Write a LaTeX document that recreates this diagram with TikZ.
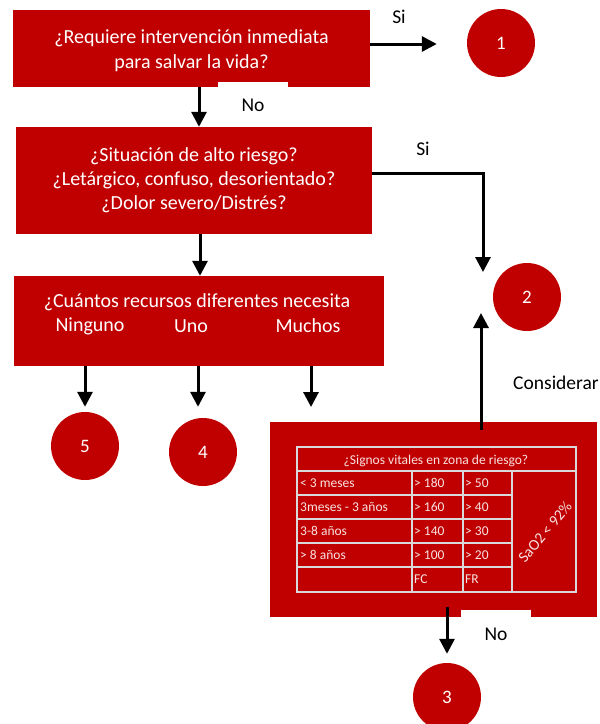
\documentclass[tikz,border=0pt]{standalone}
\usepackage{fontspec}
\setmainfont{Carlito}
\usetikzlibrary{arrows.meta,positioning}
\definecolor{rojo}{RGB}{192,0,0}
\definecolor{linea}{RGB}{217,217,217}
\definecolor{rosa}{RGB}{248,226,226}
\begin{document}
\begin{tikzpicture}[x=1pt,y=-1pt,
  caja/.style={fill=rojo,text=white,align=center,inner sep=0pt,font=\fontsize{20}{24}\selectfont},
  txt/.style={text=white,inner sep=0pt,font=\fontsize{20}{24}\selectfont},
  circulo/.style={circle,fill=rojo,text=white,minimum size=68pt,inner sep=0pt,font=\fontsize{19}{22}\selectfont},
  flecha/.style={line width=3pt,-{Triangle[length=15pt,width=15pt]}},
  etiq/.style={inner sep=0pt,font=\fontsize{19.5}{22}\selectfont},
  tapa/.style={etiq,fill=white,minimum width=70pt},
  rejilla/.style={draw=linea,line width=1.5pt},
  celda/.style={anchor=west,text=rosa,inner sep=0pt,font=\fontsize{13.5}{16}\selectfont}]
\useasboundingbox (0,0) rectangle (600,724);
\node[caja,minimum width=357pt,minimum height=77pt] (b1) at (191.5,48.5) {};
\node[txt,align=center,font=\fontsize{20}{25}\selectfont] (q1) at (191.5,51) {¿Requiere intervención inmediata\\para salvar la vida?};
\node[tapa,minimum height=46pt] (no1) at (253,105) {No};
\node[caja,minimum width=356pt,minimum height=107pt] (b2) at (194,180.5) {¿Situación de alto riesgo?\\¿Letárgico, confuso, desorientado?\\¿Dolor severo/Distrés?};
\node[caja,minimum width=370pt,minimum height=90pt] (b3) at (199,321) {};
\node[txt] (q3) at (197,302) {¿Cuántos recursos diferentes necesita};
\node[txt] (ning) at (90,326) {Ninguno};
\node[txt] (uno) at (191,326) {Uno};
\node[txt] (much) at (308,326) {Muchos};
\node[caja,minimum width=327pt,minimum height=195pt] (b4) at (433.5,519.5) {};
\node[tapa,minimum height=48pt] (no2) at (496,634) {No};
\node[circulo] (c1) at (501,43) {1};
\node[circulo] (c2) at (527,297) {2};
\node[circulo] (c5) at (85,446) {5};
\node[circulo] (c4) at (203,452) {4};
\node[circulo] (c3) at (447,697) {3};
\node[etiq] (si1) at (399,17) {Si};
\node[etiq] (si2) at (423,149) {Si};
\node[etiq] (cons) at (556,383) {Considerar};
\coordinate (t2) at (483,272);
\coordinate (t2b) at (481,313);
\coordinate (m) at (311,407);
\draw[rejilla] (297,447) rectangle (576,592);
\draw[rejilla] (297,471) -- (576,471);
\foreach \y in {495,519,543,567} \draw[rejilla] (297,\y) -- (512,\y);
\foreach \x in {412,463,512} \draw[rejilla] (\x,471) -- (\x,592);
\node[celda,anchor=center] (tit) at (436,461) {¿Signos vitales en zona de riesgo?};
\foreach \edad/\fc/\fr [count=\i] in {{< 3 meses}/{> 180}/{> 50},{3meses - 3 años}/{> 160}/{> 40},{3-8 años}/{> 140}/{> 30},{> 8 años}/{> 100}/{> 20},{}/FC/FR}{
  \node[celda] (e\i) at (300,{459+24*\i}) {\edad};
  \node[celda] (fc\i) at (414,{459+24*\i}) {\fc};
  \node[celda] (fr\i) at (465,{459+24*\i}) {\fr};
}
\node[celda,anchor=center,rotate=50,font=\fontsize{15.5}{18}\selectfont] (sat) at (545,532) {SaO2 < 92\%};
\draw[flecha] ([xshift=7.5pt]b1.south) -- ([xshift=7.5pt]b1.south |- b2.north);
\draw[flecha,shorten >=30pt] ([yshift=4.5pt]b1.east) -- ([yshift=4.5pt]b1.east -| c1.west);
\draw[flecha] ([yshift=7.5pt]b2.east) -| (t2);
\draw[flecha] ([xshift=6pt]b2.south) -- ([xshift=6pt]b2.south |- b3.north);
\draw[flecha] (b3.south -| c5) -- ([yshift=5pt]c5.north);
\draw[flecha] ([xshift=-5pt]c4.north |- b3.south) -- ([xshift=-5pt,yshift=11pt]c4.north);
\draw[flecha] (b3.south -| m) -- (m);
\draw[flecha] ([yshift=-8pt]b4.north -| t2b) -- (t2b);
\draw[flecha] ([yshift=10pt]b4.south -| c3) -- ([yshift=9pt]c3.north);
\end{tikzpicture}
\end{document}
